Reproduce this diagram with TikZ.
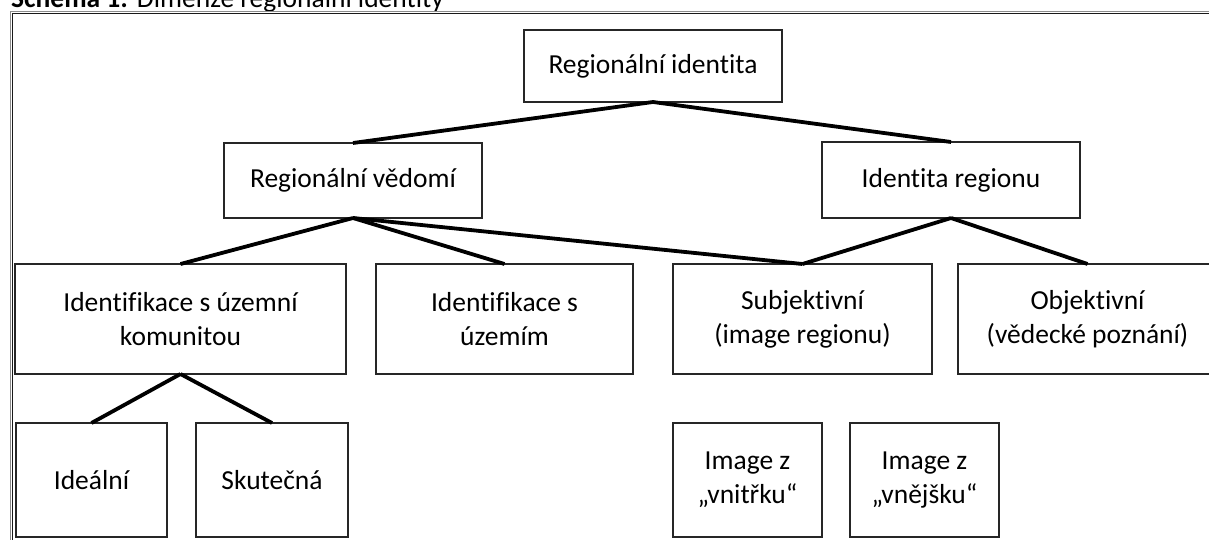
\documentclass[tikz,border=0pt]{standalone}
\usepackage{fontspec}
\setmainfont{Carlito}[Ligatures=NoCommon]
\begin{document}
\begin{tikzpicture}[x=1pt,y=-1pt,
  box/.style={draw=black!85,line width=1.8pt,inner sep=0pt,outer sep=0pt,align=center,
    font=\fontsize{27.5}{34}\selectfont},
  link/.style={line width=3.8pt,black},
  frameline/.style={line width=1.1pt}]
\useasboundingbox (0,0) rectangle (1209,540);
\clip (0,0) rectangle (1209,540);
% caption (cut by the top edge, as in the reference)
\node[anchor=base west,inner sep=0pt,font=\fontsize{27.5}{33}\selectfont] (title) at (11,8)
  {\textbf{Schéma 1:}\hspace{9pt}Dimenze regionální identity};
% table frame
\draw[frameline,black!45] (10.3,545) -- (10.3,11.8) -- (1215,11.8);
\draw[frameline,black!90] (12.3,545) -- (12.3,13.4) -- (1215,13.4);
% level 1
\node[box,minimum width=258pt,minimum height=72pt] (ri) at (653,66) {Regionální identita};
% level 2
\node[box,minimum width=258pt,minimum height=75pt] (rv) at (353,180.5) {Regionální vědomí};
\node[box,minimum width=258pt,minimum height=76pt] (ir) at (951,180) {Identita regionu};
% level 3
\node[box,minimum width=331pt,minimum height=110pt] (ik) at (180.5,319) {Identifikace s územní\\komunitou};
\node[box,minimum width=257pt,minimum height=110pt] (iu) at (504.5,319) {Identifikace s\\územím};
\node[box,minimum width=259pt,minimum height=110pt] (sub) at (802.5,319) {Subjektivní\\(image regionu)};
\node[box,minimum width=259pt,minimum height=110pt] (obj) at (1087.5,319) {Objektivní\\(vědecké poznání)};
% level 4
\node[box,minimum width=151pt,minimum height=114pt] (ide) at (91.5,480) {Ideální};
\node[box,minimum width=152pt,minimum height=114pt] (sku) at (272,480) {Skutečná};
\node[box,minimum width=149pt,minimum height=114pt] (vni) at (747.5,480) {Image z\\„vnitřku“};
\node[box,minimum width=149pt,minimum height=114pt] (vne) at (924.5,480) {Image z\\„vnějšku“};
% connectors
\draw[link] (ri.south) -- (rv.north);
\draw[link] (ri.south) -- (ir.north);
\draw[link] (rv.south) -- (ik.north);
\draw[link] (rv.south) -- (iu.north);
\draw[link] (rv.south) -- (sub.north);
\draw[link] (ir.south) -- (sub.north);
\draw[link] (ir.south) -- (obj.north);
\draw[link] (ik.south) -- (ide.north);
\draw[link] (ik.south) -- (sku.north);
\end{tikzpicture}
\end{document}
